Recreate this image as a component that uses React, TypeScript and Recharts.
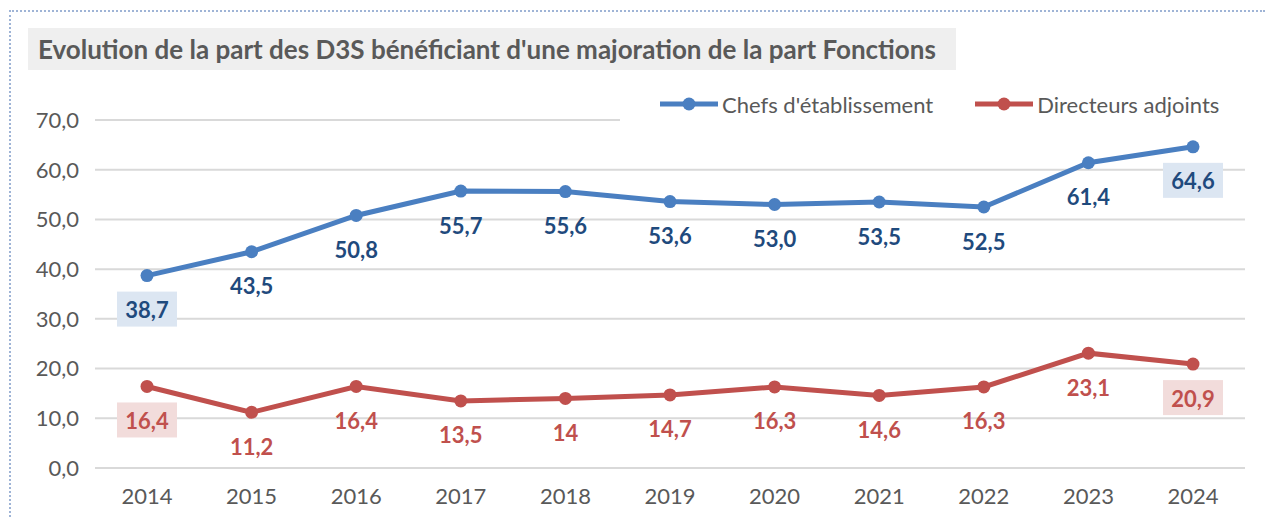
import { LineChart, Line, XAxis, YAxis, CartesianGrid, LabelList } from "recharts"

const years = ["2014", "2015", "2016", "2017", "2018", "2019", "2020", "2021", "2022", "2023", "2024"]
const chefs = [38.7, 43.5, 50.8, 55.7, 55.6, 53.6, 53.0, 53.5, 52.5, 61.4, 64.6]
const adjoints = [16.4, 11.2, 16.4, 13.5, 14, 14.7, 16.3, 14.6, 16.3, 23.1, 20.9]
const chefsLabels = ["38,7", "43,5", "50,8", "55,7", "55,6", "53,6", "53,0", "53,5", "52,5", "61,4", "64,6"]
const adjointsLabels = ["16,4", "11,2", "16,4", "13,5", "14", "14,7", "16,3", "14,6", "16,3", "23,1", "20,9"]
const yTicks = [0, 10, 20, 30, 40, 50, 60, 70]

const data = years.map((y, i) => ({ year: y, chefs: chefs[i], adjoints: adjoints[i] }))

const BLUE = "#4a7fc1"
const RED = "#c0504d"
const FONT = "Lato, 'Open Sans', sans-serif"

function makeLabel(texts: string[], color: string, boxColor: string) {
  return (props: any) => {
    const { x, y, index } = props
    const cy = y + 34
    const boxed = index === 0 || index === texts.length - 1
    return (
      <g>
        {boxed && <rect x={x - 30} y={cy - 18} width={60} height={35} fill={boxColor} />}
        <text x={x} y={cy} textAnchor="middle" dominantBaseline="central" fill={color}
          fontSize={22} fontWeight={700} fontFamily={FONT}>
          {texts[index]}
        </text>
      </g>
    )
  }
}

const legendItems = [
  { name: "Chefs d'établissement", color: BLUE },
  { name: "Directeurs adjoints", color: RED },
]

export default function App() {
  return (
    <div style={{ position: "absolute", top: 0, left: 0, width: 1265, height: 517, background: "#fff" }}>
      <div style={{ position: "absolute", top: 10, left: 9, right: 0, bottom: 0,
        borderTop: "2px dotted #9fb4d6", borderLeft: "2px dotted #9fb4d6" }} />
      <LineChart width={1265} height={517} data={data}
        margin={{ top: 120, right: 20, left: 0, bottom: 0 }}>
        <CartesianGrid vertical={false} stroke="#d9d9d9" strokeWidth={2} />
        <XAxis dataKey="year" axisLine={false} tickLine={false} height={49} padding={{ left: 52, right: 52 }}
          tick={{ fill: "#595959", fontSize: 22, fontFamily: FONT }} tickMargin={14} />
        <YAxis domain={[0, 70]} ticks={yTicks} axisLine={false} tickLine={false} width={95}
          tickFormatter={(v: number) => v.toFixed(1).replace(".", ",")}
          tick={{ fill: "#595959", fontSize: 22, fontFamily: FONT }} tickMargin={10} />
        <Line dataKey="chefs" name="Chefs d'établissement" stroke={BLUE} strokeWidth={5}
          dot={{ r: 6.5, fill: BLUE, stroke: BLUE, strokeWidth: 0 }} isAnimationActive={false}>
          <LabelList dataKey="chefs" content={makeLabel(chefsLabels, "#1f4a7d", "#dce6f2")} />
        </Line>
        <Line dataKey="adjoints" name="Directeurs adjoints" stroke={RED} strokeWidth={5}
          dot={{ r: 6.5, fill: RED, stroke: RED, strokeWidth: 0 }} isAnimationActive={false}>
          <LabelList dataKey="adjoints" content={makeLabel(adjointsLabels, RED, "#f2dcdb")} />
        </Line>
      </LineChart>
      <div style={{ position: "absolute", top: 86, left: 620, width: 640, height: 36, background: "#fff",
        display: "flex", alignItems: "center", paddingLeft: 38, boxSizing: "border-box" }}>
        {legendItems.map((it) => (
          <div key={it.name} style={{ display: "flex", alignItems: "center", marginRight: 40 }}>
            <svg width={62} height={16}>
              <line x1={2} y1={8} x2={60} y2={8} stroke={it.color} strokeWidth={5} />
              <circle cx={31} cy={8} r={6.5} fill={it.color} />
            </svg>
            <span style={{ fontFamily: FONT, fontSize: 22, color: "#595959", marginLeft: 2 }}>{it.name}</span>
          </div>
        ))}
      </div>
      <div style={{ position: "absolute", top: 28, left: 28, width: 928, height: 42, background: "#efefef",
        fontFamily: FONT, fontWeight: 700, fontSize: 26, color: "#595959", lineHeight: "42px",
        paddingLeft: 10, boxSizing: "border-box", whiteSpace: "nowrap" }}>
        Evolution de la part des D3S bénéficiant d'une majoration de la part Fonctions
      </div>
    </div>
  )
}
